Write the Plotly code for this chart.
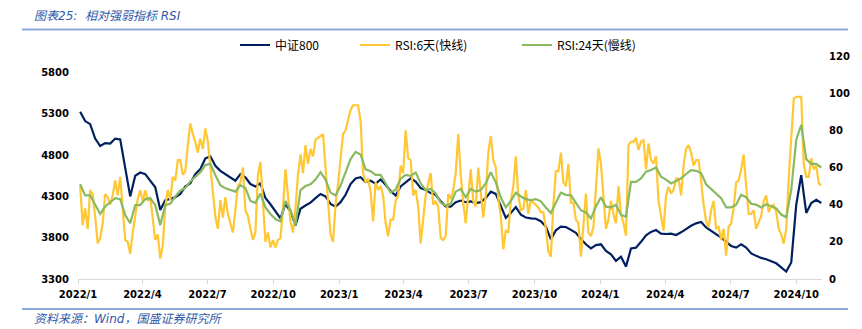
import pandas as pd
import plotly.graph_objects as go

# ---------------- data ----------------
start_date = "2022-01-04"
n_weekly = 149      # CSI 800 and RSI-24, weekly samples
n_rsi6 = 297        # RSI-6, twice-weekly samples

csi800 = [5324,5212,5175,5000,4910,4945,4940,5000,4990,4650,
          4300,4550,4590,4570,4490,4410,4135,4255,4270,4290,
          4330,4420,4460,4570,4630,4760,4785,4670,4610,4570,
          4530,4490,4570,4530,4450,4420,4458,4280,4205,4120,
          4035,4210,4120,3950,4150,4190,4225,4280,4330,4300,
          4210,4175,4230,4320,4450,4518,4533,4475,4490,4455,
          4505,4440,4365,4310,4420,4470,4518,4480,4400,4377,
          4340,4320,4240,4180,4175,4230,4250,4230,4240,4220,
          4230,4280,4357,4330,4185,4040,4100,4170,4080,4045,
          4035,4030,4000,3935,3780,3890,3935,3930,3895,3860,
          3785,3720,3670,3710,3720,3640,3600,3520,3570,3450,
          3670,3680,3750,3830,3870,3893,3850,3845,3850,3833,
          3865,3905,3945,3974,3990,3925,3885,3850,3800,3750,
          3700,3680,3720,3680,3610,3580,3555,3540,3515,3490,
          3440,3390,3500,4200,4558,4100,4220,4260,4220]

rsi24 = [51,45,45,40,35,39,41.5,43.5,43,34.4,
         30,39.8,39.8,43,43.5,39.8,29,39.8,40.5,44.4,
         47.5,49,52.5,55,57.5,61.3,62,55.9,50.5,48.8,
         47.8,47,50.5,49,42,41,46,38.5,35,32.3,
         31,42,37,29,47.8,50,51,53.5,57.5,53.5,
         46.5,45,50.3,58,64.5,68.4,67,59,58,56,
         56,51.5,46.5,48,54,56,55.5,57.3,51.5,47.8,
         48.5,46,41,39.5,40.5,47,48.5,44,48.5,47,
         47.8,51.5,57.5,52,44,38.5,42,46.5,44.4,43,
         42.5,43,41.8,38.5,35.5,41,46.5,45.3,45,41,
         37,35.8,32.6,39,44,38.9,38.5,40,34.5,33.5,
         52.3,52.3,54.1,57.8,58.6,60,55,53.5,51.4,52.7,
         54.1,56.5,58.6,58.2,57,51,48.5,46.5,43.5,38.5,
         38.5,40,45.3,44,40.5,40,38.5,40.2,39.1,38,
         34.7,33.2,48,75,83,64.5,62,62,60]

rsi6 = [50.5,29,38,27,47.8,45.7,33.5,19.2,22,30,
        45.7,44,40,45,53,45,55,40,21,20,
        13.6,25,35,43,47.8,42,47.8,42,44,33,
        21,24,11,18,38.9,48,42.5,55,53,64,
        64,56,58,72,83.7,78,73.8,68,75.6,70,
        81,74,60,47.8,33.5,27,42.5,33,44,35,
        30,25,37,50,52,60,37,34,27,21,
        25,56,63,40,20,25,17,21,17,21,
        22,38,59,45,31,25,38,56,67,57,
        72,62,70,66,75,76,77,78,60,42,
        24,20,40,51,66,78,80,85,91,93.5,
        93.5,93.5,85,57,52,54,47,31,52,48,
        50,45,30,23,32,32,42,45,61,57,
        80,65,64,45,48,38.9,19.2,33.5,45,51.4,
        57,40,42,38.9,22,21,23,45.7,43,47.8,
        57,78,56,41,30,45,59,42,39,60,
        48,33,45,68,77,64,60,43,34,16,
        26,25,42,50,66,45,37,38,47.8,35,
        42.5,41,40,38.5,36,36,27,15,12,40,
        58,58,68,52,50,62,41,41,32,30,
        12,31,46,25,23,28,48,70.3,62,44,
        27,32,42,35,30,50,35,30,23.3,72,
        73.8,73.8,76,69.4,74,74.7,59,72.9,64,62.2,
        66,42,35,26,45,49.6,46,48,54,54,
        45,61,70,72,68,61,64,64,53,40,
        31,28,37,42,27,28,21,27,12.5,28,
        30,38,52,53,59,67,50,35,35,37,
        27,31,34,42,45,36,39,40,36,27,
        24,19,27,54,77,97,98,98,98,62,
        55,55,65,59,61,51.5,50.5]

tick_labels = ["2022/1","2022/4","2022/7","2022/10","2023/1","2023/4",
               "2023/7","2023/10","2024/1","2024/4","2024/7","2024/10"]
left_ticks = [3300, 3800, 4300, 4800, 5300, 5800]
right_ticks = [0, 20, 40, 60, 80, 100, 120]

names = ["中证800", "RSI:6天(快线)", "RSI:24天(慢线)"]
title_text = "图表25:  相对强弱指标 RSI"
source_text = "资料来源：Wind，国盛证券研究所"

dates_w = pd.date_range(start_date, periods=n_weekly, freq="7D")
dates_h = pd.date_range(start_date, periods=n_rsi6, freq="84h")
tick_dates = pd.date_range("2022-01-01", periods=len(tick_labels), freq="QS")

# ---------------- figure ----------------
W, H = 862, 329
L, R, T, B = 78, 40, 56, 50
pw, ph = W - L - R, H - T - B

def px_x(p):
    return (p - L) / pw

def px_y(p):
    return (H - B - p) / ph

NAVY = "#002060"
GOLD = "#FFC734"
GREEN = "#8AB960"
BLUE_TXT = "#2F58A8"
RULE = "#8EA9DB"

fig = go.Figure()
fig.add_trace(go.Scatter(x=dates_w, y=csi800, name=names[0], mode="lines",
                         line=dict(color=NAVY, width=2.2), yaxis="y",
                         legend="legend"))
fig.add_trace(go.Scatter(x=dates_h, y=rsi6, name=names[1], mode="lines",
                         line=dict(color=GOLD, width=2.2), yaxis="y2",
                         legend="legend2"))
fig.add_trace(go.Scatter(x=dates_w, y=rsi24, name=names[2], mode="lines",
                         line=dict(color=GREEN, width=2.2), yaxis="y2",
                         legend="legend3"))

tick_font = dict(family="DejaVu Sans", size=10, color="#000000", weight="bold")
leg_font = dict(family="Noto Sans CJK SC", size=12, color="#000000")

def leg(xp):
    return dict(x=px_x(xp), y=px_y(45), xanchor="left", yanchor="middle",
                orientation="h", font=leg_font, bgcolor="rgba(0,0,0,0)",
                itemwidth=30, tracegroupgap=0)

fig.update_layout(
    width=W, height=H,
    margin=dict(l=L, r=R, t=T, b=B),
    paper_bgcolor="white", plot_bgcolor="white",
    showlegend=True,
    legend=leg(235),
    legend2=leg(355),
    legend3=leg(517),
    xaxis=dict(type="date", range=["2022-01-01", "2024-11-06"],
               tickvals=tick_dates, ticktext=tick_labels,
               showgrid=False, zeroline=False,
               showline=True, linecolor="#D9D9D9", linewidth=1,
               ticks="outside", ticklen=4, tickcolor="#D9D9D9",
               tickfont=tick_font, ticklabelstandoff=2),
    yaxis=dict(range=[3300, 6000], tickvals=left_ticks,
               showgrid=False, zeroline=False, showline=False,
               ticks="", tickfont=tick_font, ticklabelstandoff=8),
    yaxis2=dict(range=[0, 120], tickvals=right_ticks, overlaying="y",
                side="right", showgrid=False, zeroline=False,
                showline=False, ticks="", tickfont=tick_font,
                ticklabelstandoff=6),
    shapes=[
        dict(type="line", xref="paper", yref="paper",
             x0=px_x(22), x1=px_x(848), y0=px_y(29.5), y1=px_y(29.5),
             line=dict(color=RULE, width=2)),
        dict(type="line", xref="paper", yref="paper",
             x0=px_x(22), x1=px_x(848), y0=px_y(309), y1=px_y(309),
             line=dict(color=RULE, width=2)),
    ],
    annotations=[
        dict(text="<i>" + title_text + "</i>", xref="paper", yref="paper",
             x=px_x(32), y=px_y(16), xanchor="left", yanchor="middle",
             showarrow=False,
             font=dict(family="DejaVu Sans, Noto Sans CJK SC", size=12,
                       color=BLUE_TXT)),
        dict(text="<i>" + source_text + "</i>", xref="paper", yref="paper",
             x=px_x(32), y=px_y(319), xanchor="left", yanchor="middle",
             showarrow=False,
             font=dict(family="DejaVu Sans, Noto Sans CJK SC", size=12,
                       color=BLUE_TXT)),
    ],
)

fig.write_html("out.html")
